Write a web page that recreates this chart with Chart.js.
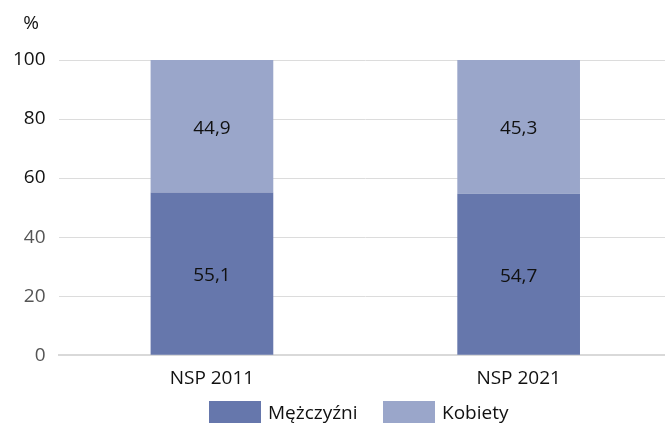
<!DOCTYPE html>
<html>
<head>
<meta charset="utf-8">
<script src="https://cdn.jsdelivr.net/npm/chart.js@4"></script>
<style>
  html, body { margin: 0; padding: 0; background: #fff; overflow: hidden; }
  #wrap { width: 672px; height: 423px; position: relative; }
  #legend { position: absolute; left: 0; top: 401px; width: 665px; height: 22px;
            font: 19px 'Open Sans', 'Noto Sans', sans-serif; color: #111; }
  #legend .item { position: absolute; top: 0; height: 22px; line-height: 22px; white-space: nowrap; }
  #legend .box { display: inline-block; width: 52px; height: 22px; vertical-align: top; margin-right: 7px; }
</style>
</head>
<body>
<div id="wrap"><canvas id="chart"></canvas><div id="legend"></div></div>
<script>
const categories = ['NSP 2011', 'NSP 2021'];
const men = [55.1, 54.7];
const women = [44.9, 45.3];
const seriesNames = ['Mężczyźni', 'Kobiety'];
const seriesColors = ['#6677ac', '#9aa6ca'];
const yTicks = [0, 20, 40, 60, 80, 100];

const FONT = "'Open Sans', 'Noto Sans', sans-serif";

// draws the values in the middle of each segment and the "%" unit
const labelsPlugin = {
    id: 'labels',
    afterDatasetsDraw(chart) {
        const ctx = chart.ctx;
        ctx.save();
        ctx.font = '19px ' + FONT;
        ctx.fillStyle = '#111';
        ctx.textAlign = 'center';
        ctx.textBaseline = 'middle';
        chart.data.datasets.forEach((ds, i) => {
            chart.getDatasetMeta(i).data.forEach((bar, j) => {
                let mid = (bar.y + bar.base) / 2 + 2;
                ctx.fillText(ds.data[j].toFixed(1).replace('.', ','), bar.x, mid);
            });
        });
        ctx.fillText('%', 31, 24);
        ctx.restore();
    }
};

const chart = new Chart(document.getElementById('chart'), {
    type: 'bar',
    data: {
        labels: categories,
        datasets: [
            { label: seriesNames[0], data: men, backgroundColor: seriesColors[0] },
            { label: seriesNames[1], data: women, backgroundColor: seriesColors[1] }
        ]
    },
    options: {
        responsive: true,
        maintainAspectRatio: false,
        animation: false,
        layout: { padding: { top: 60, right: 0, left: 0, bottom: 29 } },
        datasets: { bar: { barPercentage: 0.4, categoryPercentage: 1 } },
        scales: {
            x: {
                stacked: true,
                grid: { display: false },
                border: { color: '#d9d9d9', width: 2 },
                ticks: { color: '#111', font: { family: FONT, size: 19 }, padding: 4 }
            },
            y: {
                stacked: true,
                min: 0,
                max: 100,
                afterBuildTicks(axis) { axis.ticks = yTicks.map(v => ({ value: v })); },
                grid: { color: '#dcdcdc', lineWidth: 1, drawTicks: false },
                border: { display: false },
                ticks: {
                    color: c => c.tick.value >= 60 ? '#111' : '#555',
                    font: { family: FONT, size: 19 },
                    padding: 13
                }
            }
        },
        plugins: {
            legend: { display: false },
            tooltip: { enabled: false }
        }
    },
    plugins: [labelsPlugin]
});

// legend row under the axis
const legendLeft = [209, 383];
const legendEl = document.getElementById('legend');
chart.data.datasets.forEach((ds, i) => {
    const item = document.createElement('div');
    item.className = 'item';
    item.style.left = legendLeft[i] + 'px';
    const box = document.createElement('span');
    box.className = 'box';
    box.style.background = ds.backgroundColor;
    item.appendChild(box);
    item.appendChild(document.createTextNode(ds.label));
    legendEl.appendChild(item);
});
</script>
</body>
</html>
